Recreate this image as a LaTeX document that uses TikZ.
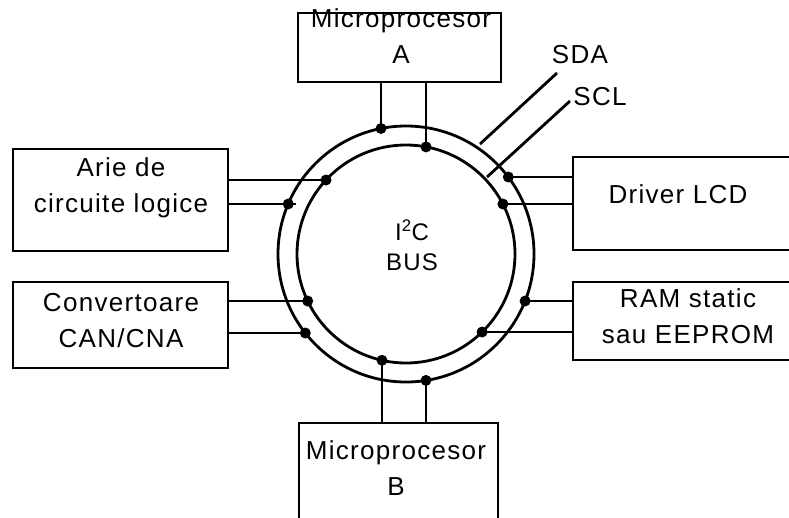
\documentclass[tikz,border=0pt]{standalone}
\usepackage{fontspec}
\setmainfont{Liberation Sans}[LetterSpace=5]

\begin{document}
\begin{tikzpicture}[
  x=1pt,y=-1pt,
  font=\fontsize{26}{36}\selectfont,
  bus/.style={line width=2.8pt},
  wire/.style={line width=2.8pt},
  box/.style={draw,line width=2.8pt,inner sep=0pt},
  lbl/.style={align=center,inner sep=0pt},
  dot/.style={fill=black}
]
\useasboundingbox (0,0) rectangle (789,517);

% the two bus lines of the ring
\coordinate (ctr) at (406,254);
\draw[bus] (ctr) circle[radius=128];
\draw[bus] (ctr) circle[radius=109];
\node[lbl,font=\fontsize{24}{30}\selectfont] (bus) at (412,245)
  {I\textsuperscript{2}C\\BUS};

\node[box,minimum width=203,minimum height=69] (procA) at (399.5,47.5) {};
\node[lbl] (procAtxt) at (401,36) {Microprocesor\\A};
\node[box,minimum width=215,minimum height=102] (arie) at (120.5,200) {};
\node[lbl] (arietxt) at (121,188) {Arie de\\circuite logice};
\node[box,minimum width=215,minimum height=86] (conv) at (120.5,325) {};
\node[lbl] (convtxt) at (121,321) {Convertoare\\CAN/CNA};
\node[box,minimum width=237,minimum height=93] (lcd) at (691.5,203.5) {};
\node[lbl] (lcdtxt) at (678,194.5) {Driver LCD};
\node[box,minimum width=237,minimum height=78] (ram) at (691.5,321) {};
\node[lbl] (ramtxt) at (688,316.5) {RAM static\\sau EEPROM};
\node[box,minimum width=199,minimum height=107] (procB) at (398.5,476.5) {};
\node[lbl] (procBtxt) at (396,468.5) {Microprocesor\\B};

% taps on the outer (SDA) and inner (SCL) ring
\coordinate (a1) at (381,128.5);
\coordinate (a2) at (426,146.9);
\coordinate (l1) at (326,180);
\coordinate (l2) at (288.2,204);
\coordinate (l2end) at (296,204);
\coordinate (l3) at (307.7,301);
\coordinate (l4) at (305.3,333);
\coordinate (r1) at (508.3,177);
\coordinate (r2) at (502.9,204);
\coordinate (r3) at (525.1,301);
\coordinate (r4) at (482.1,332);
\coordinate (b1) at (382,360.3);
\coordinate (b2) at (426,380.4);

\draw[wire] (procA.south -| a1) -- (a1);
\draw[wire] (procA.south -| a2) -- (a2);
\draw[wire] (arie.east |- l1) -- (l1);
\draw[wire] (arie.east |- l2) -- (l2end);
\draw[wire] (conv.east |- l3) -- (l3);
\draw[wire] (conv.east |- l4) -- (l4);
\draw[wire] (r1) -- (lcd.west |- r1);
\draw[wire] (r2) -- (lcd.west |- r2);
\draw[wire] (r3) -- (ram.west |- r3);
\draw[wire] (r4) -- (ram.west |- r4);
\draw[wire] (b1) -- (procB.north -| b1);
\draw[wire] (b2) -- (procB.north -| b2);
\foreach \p in {a1,a2,l1,l2,l3,l4,r1,r2,r3,r4,b1,b2}
  \fill[dot] (\p) circle[radius=5.5];

\node[lbl] (sda) at (580,55) {SDA};
\node[lbl] (scl) at (600,97) {SCL};
\coordinate (sda0) at (480,144);
\coordinate (sda1) at (557,73);
\coordinate (scl0) at (487,177);
\coordinate (scl1) at (570,101);
\draw[wire] (sda0) -- (sda1);
\draw[wire] (scl0) -- (scl1);
\end{tikzpicture}
\end{document}
